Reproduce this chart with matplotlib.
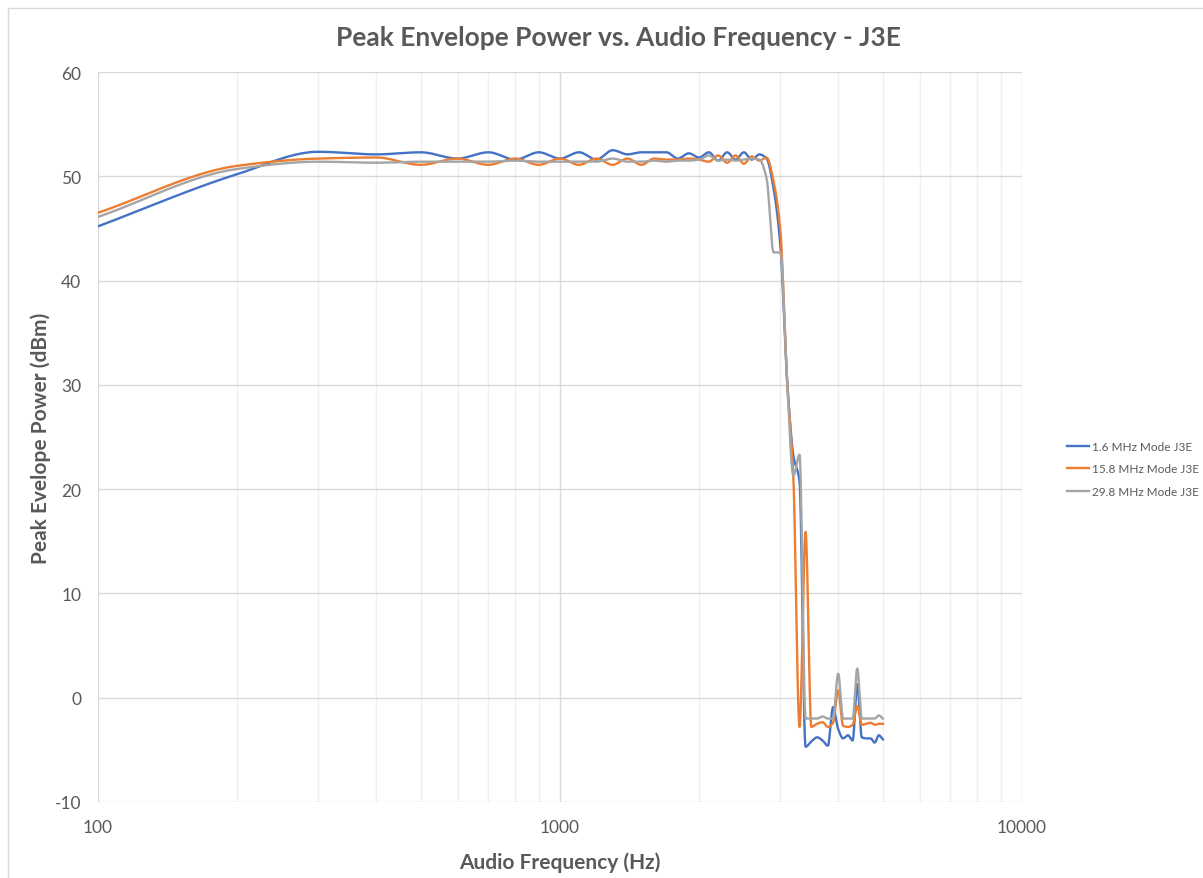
import numpy as np
import matplotlib
matplotlib.use("Agg")
from matplotlib import pyplot as plt
from matplotlib.patches import Rectangle

plt.rcParams["axes.unicode_minus"] = False

# audio test tones, Hz
freq = list(range(100, 5001, 100))

pep_1_6 = [45.2, 50.2, 52.35, 52.1, 52.3, 51.7, 52.3, 51.6, 52.3, 51.7,
           52.3, 51.6, 52.5, 52.1, 52.3, 52.3, 52.3, 51.7, 52.2, 51.8,
           52.3, 51.5, 52.3, 51.6, 52.3, 51.6, 52.1, 51.7, 48.8, 43.3,
           30.6, 23.2, 20.7, -4.7, -4.2, -3.8, -4.1, -4.6, -0.9, -3.0,
           -3.9, -3.6, -4.1, 1.3, -3.8, -3.9, -3.9, -4.3, -3.6, -4.0]

pep_15_8 = [46.5, 51.0, 51.7, 51.8, 51.1, 51.7, 51.1, 51.7, 51.1, 51.7,
            51.1, 51.7, 51.1, 51.7, 51.1, 51.7, 51.6, 51.6, 51.7, 51.6,
            51.4, 52.0, 51.3, 52.0, 51.2, 51.9, 51.5, 51.8, 49.5, 44.7,
            30.6, 21.0, -2.8, 15.9, -2.8, -2.5, -2.35, -2.8, -2.4, 0.7,
            -2.7, -2.8, -2.6, -0.8, -2.6, -2.5, -2.4, -2.6, -2.5, -2.5]

pep_29_8 = [46.1, 50.7, 51.4, 51.3, 51.4, 51.4, 51.4, 51.5, 51.4, 51.4,
            51.4, 51.4, 51.7, 51.4, 51.4, 51.5, 51.4, 51.5, 51.5, 51.6,
            52.0, 51.5, 51.6, 51.5, 51.6, 51.7, 51.6, 49.8, 42.7, 42.7,
            30.6, 21.3, 23.3, -2.0, -2.0, -2.0, -1.8, -2.0, -2.0, 2.3,
            -2.0, -2.0, -2.0, 2.8, -2.0, -2.0, -2.0, -2.0, -1.7, -2.0]

labels = ["1.6 MHz Mode J3E", "15.8 MHz Mode J3E", "29.8 MHz Mode J3E"]
colors = ["#4472C4", "#ED7D31", "#A5A5A5"]

TEXT = "#595959"
FONT = ["Lato", "DejaVu Sans"]


def smooth(xs, ys, n=24):
    """Shape-preserving cubic (Fritsch-Carlson) through the points, in log-x."""
    x = np.log10(np.asarray(xs, float))
    y = np.asarray(ys, float)
    h = np.diff(x)
    d = np.diff(y) / h
    m = np.zeros_like(y)
    m[0], m[-1] = d[0], d[-1]
    for k in range(1, len(y) - 1):
        if d[k - 1] * d[k] > 0:
            w1 = 2 * h[k] + h[k - 1]
            w2 = h[k] + 2 * h[k - 1]
            m[k] = (w1 + w2) / (w1 / d[k - 1] + w2 / d[k])
    px, py = [], []
    for k in range(len(h)):
        t = np.linspace(0, 1, n, endpoint=False)
        h00 = 2 * t**3 - 3 * t**2 + 1
        h10 = t**3 - 2 * t**2 + t
        h01 = -2 * t**3 + 3 * t**2
        h11 = t**3 - t**2
        px.append(x[k] + t * h[k])
        py.append(h00 * y[k] + h10 * h[k] * m[k] + h01 * y[k + 1] + h11 * h[k] * m[k + 1])
    px.append([x[-1]])
    py.append([y[-1]])
    return 10 ** np.concatenate(px), np.concatenate(py)


fig = plt.figure(figsize=(12.03, 8.79), dpi=100)
fig.patches.append(Rectangle((8 / 1203, -0.05), 1.1, 1 - 9 / 879 + 0.05,
                             transform=fig.transFigure, fill=False,
                             edgecolor="#d9d9d9", linewidth=1.0))

ax = fig.add_axes([98 / 1203, 1 - 803 / 879, 924 / 1203, 730 / 879])

for ys, lab, col in zip([pep_1_6, pep_15_8, pep_29_8], labels, colors):
    sx, sy = smooth(freq, ys)
    ax.plot(sx, sy, color=col, linewidth=1.7, label=lab, solid_joinstyle="round")

ax.set_xscale("log")
ax.set_xlim(100, 10000)
ax.set_ylim(-10, 60)
ax.set_yticks(range(-10, 61, 10))
ax.set_xticks([100, 1000, 10000])
ax.set_xticklabels(["100", "1000", "10000"])

ax.grid(True, which="major", color="#d9d9d9", linewidth=1.0)
ax.grid(True, which="minor", axis="x", color="#efefef", linewidth=1.0)
ax.set_axisbelow(True)
for s in ax.spines.values():
    s.set_visible(False)
ax.tick_params(which="both", length=0, colors=TEXT, labelsize=12.5, pad=12)
for t in ax.get_xticklabels() + ax.get_yticklabels():
    t.set_fontfamily(FONT)

# title is centred over the whole chart area, not just the plot
fig.text(618 / 1203, 1 - 38 / 879, "Peak Envelope Power vs. Audio Frequency - J3E",
         ha="center", va="center", fontsize=19, fontweight="bold",
         color=TEXT, family=FONT)
ax.set_xlabel("Audio Frequency (Hz)", fontsize=15, fontweight="bold",
              color=TEXT, family=FONT, labelpad=12)
ax.set_ylabel("Peak Evelope Power (dBm)", fontsize=15, fontweight="bold",
              color=TEXT, family=FONT, labelpad=3)

ax.legend(loc="center left", bbox_to_anchor=(1062 / 1203, 1 - 470 / 879),
          bbox_transform=fig.transFigure, frameon=False, handlelength=1.9,
          handletextpad=0.25, labelspacing=0.95, borderaxespad=0,
          prop={"family": FONT, "size": 8.5}, labelcolor=TEXT)

fig.savefig("out.png", dpi=100)
